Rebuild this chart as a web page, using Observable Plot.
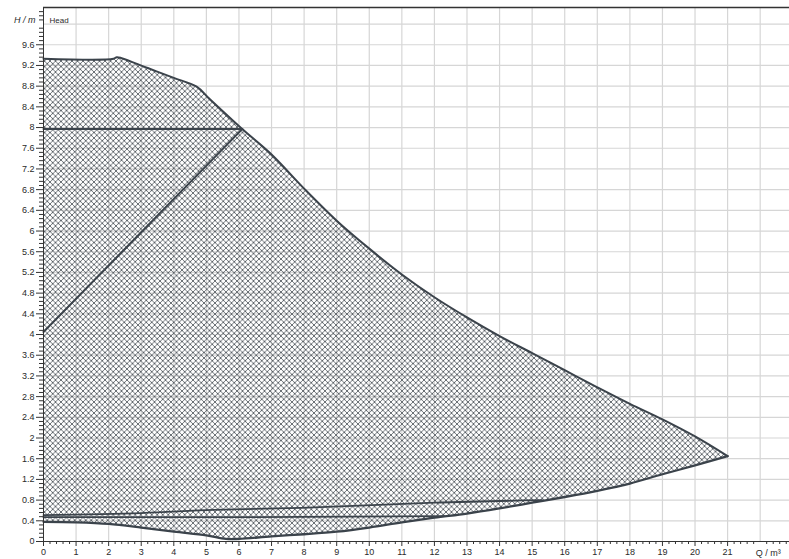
<!DOCTYPE html>
<html>
<head>
<meta charset="utf-8">
<script src="https://cdn.jsdelivr.net/npm/d3@7"></script>
<script src="https://cdn.jsdelivr.net/npm/@observablehq/plot@0.6"></script>
<style>
  html, body { margin: 0; padding: 0; background: #fff; }
  #chart svg { display: block; }
</style>
</head>
<body>
<div id="chart"></div>
<script>
// ---- Data ----
const xTicks = [0,1,2,3,4,5,6,7,8,9,10,11,12,13,14,15,16,17,18,19,20,21];
const xAxisUnitLabel = "Q / m³";
const xUnitPos = 22;
const yTicks = [0,0.4,0.8,1.2,1.6,2,2.4,2.8,3.2,3.6,4,4.4,4.8,5.2,5.6,6,6.4,6.8,7.2,7.6,8,8.4,8.8,9.2,9.6];
const yAxisUnitLabel = "H / m";
const panelLabel = "Head";
const xDomain = [0, 22.9];
const yDomain = [0, 10.32];

// upper envelope (max speed curve)
const upperX = [0, 2.15, 2.25, 2.4, 3.2, 4.0, 4.7, 5.1, 6.1, 7, 8, 9, 10, 11, 12, 13, 14, 15, 16, 17, 18, 19, 20, 21];
const upperY = [9.33, 9.33, 9.36, 9.34, 9.15, 8.96, 8.79, 8.55, 7.97, 7.48, 6.82, 6.2, 5.66, 5.16, 4.72, 4.33, 3.97, 3.64, 3.31, 2.98, 2.66, 2.36, 2.03, 1.65];
// lower envelope (min speed curve)
const lowerX = [0, 1, 2, 3, 4, 5, 5.6, 6, 7, 8, 9, 10, 11, 12, 13, 14, 15, 16, 17, 18, 19, 20, 21];
const lowerY = [0.38, 0.37, 0.34, 0.27, 0.19, 0.12, 0.05, 0.05, 0.10, 0.14, 0.19, 0.27, 0.37, 0.46, 0.54, 0.64, 0.75, 0.86, 0.98, 1.12, 1.30, 1.47, 1.65];
// constant pressure setpoint line
const constX = [0, 6.1];
const constY = [7.97, 7.97];
// variable pressure setpoint line
const varX = [0, 6.1];
const varY = [4.05, 7.97];
// minimum lines near bottom
const minAX = [0, 3, 5.2, 7.9, 12, 14.5, 15.3];
const minAY = [0.51, 0.55, 0.61, 0.65, 0.75, 0.79, 0.80];
const minBX = [0, 6, 12.3];
const minBY = [0.47, 0.47, 0.49];

// ---- Build tables ----
const pts = (xs, ys) => xs.map((x, i) => ({x, y: ys[i]}));
const upper = pts(upperX, upperY);
const lower = pts(lowerX, lowerY);
const polygon = upper.concat(lower.slice().reverse());
const gridYVals = d3.range(0.4, yDomain[1], 0.4);
const gridXVals = d3.range(1, xDomain[1], 1);
const minorY = d3.range(0, yDomain[1], 0.08).filter(v => Math.abs(v / 0.4 - Math.round(v / 0.4)) > 1e-6);
const minorX = d3.range(0, xDomain[1], 0.2).filter(v => Math.abs(v - Math.round(v)) > 1e-6);

const ink = "#3b434b";
const txt = "#2a2a2a";
const smooth = "catmull-rom";

const chart = Plot.plot({
  width: 789,
  height: 559,
  marginLeft: 43,
  marginRight: 0,
  marginTop: 7,
  marginBottom: 18,
  style: {fontFamily: "'Liberation Sans', Arial, sans-serif", fontSize: "9px", background: "#fff", color: txt, overflow: "visible"},
  x: {domain: xDomain, axis: null},
  y: {domain: yDomain, axis: null},
  marks: [
    Plot.gridY(gridYVals, {stroke: "#d6d6d6", strokeOpacity: 1, strokeWidth: 1.2}),
    Plot.gridX(gridXVals, {stroke: "#d6d6d6", strokeOpacity: 1, strokeWidth: 1.2}),
    Plot.line(polygon, {x: "x", y: "y", fill: "url(#hatch)", stroke: "none", curve: smooth}),
    Plot.line(upper, {x: "x", y: "y", stroke: ink, strokeWidth: 2, curve: smooth}),
    Plot.line(lower, {x: "x", y: "y", stroke: ink, strokeWidth: 2.3, curve: smooth}),
    Plot.line(pts(constX, constY), {x: "x", y: "y", stroke: ink, strokeWidth: 2}),
    Plot.line(pts(varX, varY), {x: "x", y: "y", stroke: ink, strokeWidth: 2}),
    Plot.line(pts(minAX, minAY), {x: "x", y: "y", stroke: ink, strokeWidth: 1.8, curve: smooth}),
    Plot.line(pts(minBX, minBY), {x: "x", y: "y", stroke: ink, strokeWidth: 1.8}),
    // frame lines
    Plot.ruleX([xDomain[0]], {stroke: "#333", strokeWidth: 1}),
    Plot.ruleY([yDomain[0]], {stroke: "#333", strokeWidth: 1}),
    Plot.ruleY([yDomain[1]], {stroke: "#333", strokeWidth: 1.6}),
    // y axis
    Plot.axisY(yTicks, {anchor: "left", tickSize: 7, tickPadding: 2, tickFormat: d3.format("~g"), label: null, stroke: "#333", fill: txt, fontSize: 9}),
    Plot.axisY(minorY, {anchor: "left", tickSize: 4, tickFormat: () => "", label: null, stroke: "#333"}),
    // x axis
    Plot.axisX(xTicks, {anchor: "bottom", tickSize: 5, tickPadding: 2, tickFormat: d3.format("d"), label: null, stroke: "#333", fill: txt, fontSize: 9}),
    Plot.axisX(minorX, {anchor: "bottom", tickSize: 3, tickFormat: () => "", label: null, stroke: "#333"}),
    Plot.text([xAxisUnitLabel], {x: xUnitPos, y: yDomain[0], dy: 12, dx: 8, textAnchor: "middle", fill: txt, fontSize: 9}),
    Plot.text([yAxisUnitLabel], {frameAnchor: "top-left", dx: -8, dy: 9, textAnchor: "end", fill: txt, fontSize: 9, fontStyle: "italic"}),
    Plot.text([panelLabel], {frameAnchor: "top-left", dx: 6, dy: 10, textAnchor: "start", fill: txt, fontSize: 8})
  ]
});

// hatch pattern definition
const ns = "http://www.w3.org/2000/svg";
const defs = document.createElementNS(ns, "defs");
const pat = document.createElementNS(ns, "pattern");
pat.setAttribute("id", "hatch");
pat.setAttribute("patternUnits", "userSpaceOnUse");
pat.setAttribute("width", "5.5");
pat.setAttribute("height", "5.5");
const p = document.createElementNS(ns, "path");
p.setAttribute("d", "M0,0L5.5,5.5M5.5,0L0,5.5M-1,4.5L1,6.5M4.5,-1L6.5,1M-1,1L1,-1M4.5,6.5L6.5,4.5");
p.setAttribute("stroke", "#50565d");
p.setAttribute("stroke-width", "0.85");
p.setAttribute("fill", "none");
pat.appendChild(p);
defs.appendChild(pat);
chart.insertBefore(defs, chart.firstChild);

document.getElementById("chart").appendChild(chart);
</script>
</body>
</html>
